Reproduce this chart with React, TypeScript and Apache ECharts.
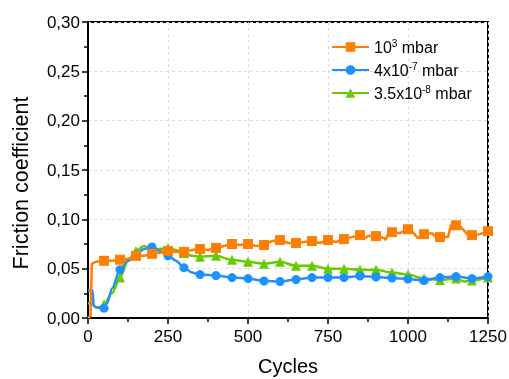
import React, { useEffect, useRef } from "react";
import * as echarts from "echarts";

const orangeCycles = [0, 8, 12, 25, 50, 75, 100, 125, 150, 175, 200, 225, 250, 275, 300, 325, 350, 375, 400, 425, 450, 475, 500, 525, 550, 575, 600, 625, 650, 675, 700, 725, 750, 775, 800, 825, 850, 865, 875, 900, 925, 930, 940, 950, 975, 1000, 1015, 1030, 1050, 1075, 1090, 1100, 1125, 1135, 1150, 1165, 1180, 1190, 1200, 1225, 1250];
const orangeValues = [0.0, 0.002, 0.055, 0.057, 0.058, 0.058, 0.059, 0.06, 0.063, 0.063, 0.065, 0.066, 0.068, 0.067, 0.067, 0.069, 0.07, 0.069, 0.071, 0.073, 0.075, 0.074, 0.075, 0.073, 0.074, 0.078, 0.079, 0.076, 0.076, 0.077, 0.078, 0.076, 0.079, 0.077, 0.08, 0.082, 0.084, 0.081, 0.083, 0.083, 0.081, 0.079, 0.087, 0.087, 0.086, 0.09, 0.087, 0.081, 0.085, 0.086, 0.081, 0.082, 0.082, 0.095, 0.094, 0.092, 0.087, 0.083, 0.084, 0.085, 0.088];

const blueCycles = [0, 14, 18, 25, 40, 50, 60, 75, 100, 125, 150, 175, 200, 225, 250, 275, 300, 325, 350, 400, 450, 500, 550, 600, 650, 700, 750, 800, 850, 900, 950, 1000, 1050, 1100, 1150, 1200, 1250];
const blueValues = [0.028, 0.028, 0.012, 0.011, 0.01, 0.01, 0.015, 0.03, 0.049, 0.058, 0.064, 0.07, 0.072, 0.068, 0.063, 0.058, 0.051, 0.046, 0.044, 0.043, 0.041, 0.04, 0.0375, 0.037, 0.039, 0.041, 0.041, 0.041, 0.0425, 0.0415, 0.0405, 0.0395, 0.038, 0.041, 0.042, 0.04, 0.042];

const greenCycles = [0, 10, 25, 40, 50, 75, 100, 125, 150, 175, 200, 225, 250, 275, 300, 325, 350, 400, 450, 500, 550, 600, 650, 700, 750, 800, 850, 900, 950, 1000, 1050, 1100, 1150, 1175, 1200, 1250];
const greenValues = [0.015, 0.015, 0.011, 0.011, 0.014, 0.025, 0.041, 0.058, 0.068, 0.073, 0.07, 0.07, 0.071, 0.069, 0.066, 0.063, 0.062, 0.063, 0.059, 0.057, 0.055, 0.057, 0.053, 0.053, 0.05, 0.05, 0.049, 0.049, 0.046, 0.044, 0.04, 0.0385, 0.04, 0.037, 0.038, 0.041];

const seriesNames = ["10^3 mbar", "4x10^-7 mbar", "3.5x10^-8 mbar"];
const legendLabels = ["10{sup|3} mbar", "4x10{sup|-7} mbar", "3.5x10{sup|-8} mbar"];
const colors = ["#ff7f00", "#1e90ff", "#66cc00"];
const symbols = ["rect", "circle", "triangle"];
const yTicks = [0, 0.05, 0.1, 0.15, 0.2, 0.25, 0.3];
const xTicks = [0, 250, 500, 750, 1000, 1250];

const FONT = "'Liberation Sans', Arial, sans-serif";

function build(cycles: number[], values: number[]) {
  return cycles.map((c, i) => {
    const marked = c > 0 && c % 50 === 0;
    return marked ? { value: [c, values[i]] } : { value: [c, values[i]], symbol: "none" };
  });
}

export default function App() {
  const ref = useRef<HTMLDivElement>(null);
  useEffect(() => {
    const chart = echarts.init(ref.current!, undefined, { renderer: "svg" });
    const datasets = [
      build(orangeCycles, orangeValues),
      build(blueCycles, blueValues),
      build(greenCycles, greenValues),
    ];
    chart.setOption({
      animation: false,
      grid: { left: 88, top: 22, right: 21, bottom: 61, show: true, borderColor: "#000", borderWidth: 2, containLabel: false, outerBoundsMode: "none" },
      legend: {
        orient: "vertical",
        left: 326,
        top: 33,
        itemWidth: 37,
        itemHeight: 12,
        itemGap: 5,
        data: seriesNames,
        formatter: (name: string) => legendLabels[seriesNames.indexOf(name)],
        textStyle: {
          fontFamily: FONT,
          fontSize: 16,
          lineHeight: 18,
          color: "#000",
          rich: {
            sup: { fontFamily: FONT, fontSize: 10, lineHeight: 10, color: "#000", verticalAlign: "top", padding: [0, 0, 8, 0] },
          },
        },
      },
      xAxis: {
        type: "value",
        min: 0,
        max: 1250,
        interval: 250,
        name: "Cycles",
        nameLocation: "middle",
        nameGap: 38,
        nameTextStyle: { fontFamily: FONT, fontSize: 20, lineHeight: 20, color: "#000" },
        axisLine: { show: true, onZero: false, lineStyle: { color: "#000", width: 2 } },
        axisTick: { show: true, inside: false, length: 6, lineStyle: { color: "#000", width: 1.5 } },
        minorTick: { show: true, splitNumber: 2, length: 4, lineStyle: { color: "#000", width: 1.5 } },
        axisLabel: { fontFamily: FONT, fontSize: 17, color: "#000", margin: 10, formatter: (v: number) => (xTicks.includes(v) ? String(v) : "") },
        splitLine: { show: true, lineStyle: { color: "#dcdcdc", type: [3, 3], width: 1 } },
      },
      yAxis: {
        type: "value",
        min: 0,
        max: 0.3,
        interval: 0.05,
        name: "Friction coefficient",
        nameLocation: "middle",
        nameGap: 56,
        nameTextStyle: { fontFamily: FONT, fontSize: 21.5, color: "#000", padding: [0, 26, 0, 0] },
        axisLine: { show: true, onZero: false, lineStyle: { color: "#000", width: 2 } },
        axisTick: { show: true, inside: false, length: 6, lineStyle: { color: "#000", width: 1.5 } },
        minorTick: { show: true, splitNumber: 2, length: 4, lineStyle: { color: "#000", width: 1.5 } },
        axisLabel: {
          fontFamily: FONT,
          fontSize: 17,
          color: "#000",
          margin: 8,
          formatter: (v: number) => {
            const t = yTicks.find((y) => Math.abs(y - v) < 1e-9);
            return t === undefined ? "" : t.toFixed(2).replace(".", ",");
          },
        },
        splitLine: { show: true, lineStyle: { color: "#dcdcdc", type: [3, 3], width: 1 } },
      },
      series: seriesNames.map((name, i) => ({
        name,
        type: "line",
        data: datasets[i],
        color: colors[i],
        symbol: symbols[i],
        symbolSize: i === 1 ? 9 : 10,
        showSymbol: true,
        smooth: i === 0 ? false : 0.3,
        smoothMonotone: "x",
        lineStyle: { width: 2.5, color: colors[i] },
        itemStyle: { color: colors[i] },
        z: 3 - i + 2,
      })),
    });
    return () => chart.dispose();
  }, []);
  return <div ref={ref} style={{ position: "fixed", left: 0, top: 0, width: 509, height: 379 }} />;
}
